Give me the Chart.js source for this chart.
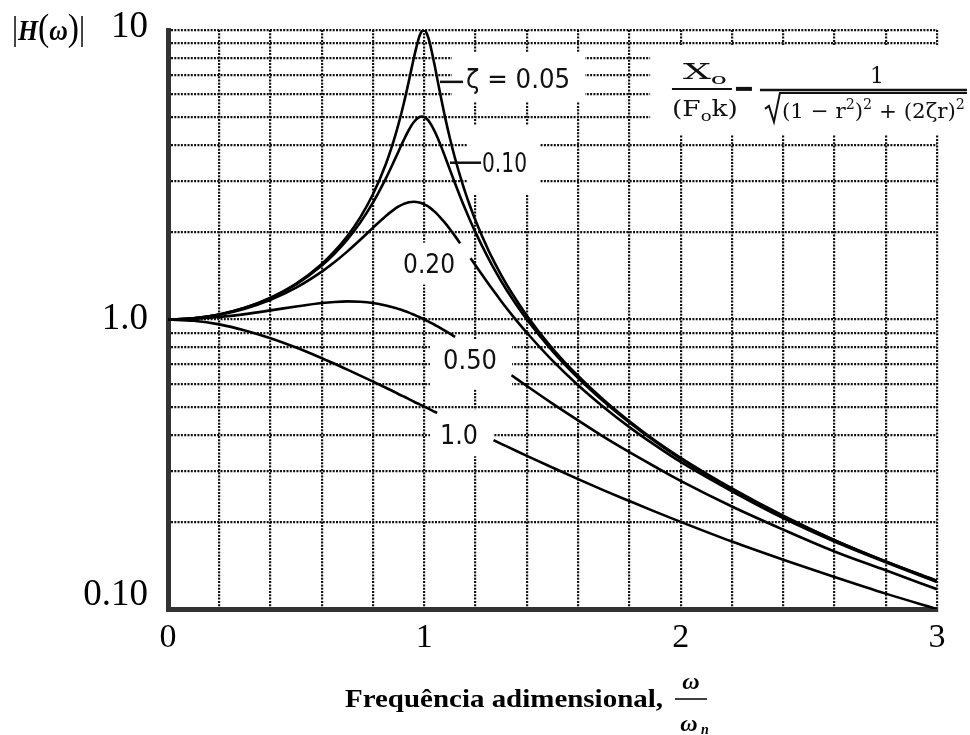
<!DOCTYPE html>
<html><head><meta charset="utf-8">
<script src="https://cdn.jsdelivr.net/npm/chart.js@4/dist/chart.umd.min.js"></script>
<style>html,body{margin:0;padding:0;background:#fff;}canvas{display:block;}</style>
</head><body>
<canvas id="c" width="970" height="735"></canvas>
<script>
// ---- data ----
const frequencyRatio = [0, 0.1, 0.2, 0.3, 0.4, 0.5, 0.6, 0.65, 0.7, 0.75, 0.8, 0.85, 0.88, 0.9, 0.92, 0.94, 0.96, 0.98, 0.99, 1.0, 1.01, 1.02, 1.04, 1.05, 1.06, 1.08, 1.1, 1.12, 1.14, 1.16, 1.18, 1.2, 1.25, 1.27, 1.3, 1.34, 1.4, 1.5, 1.6, 1.7, 1.8, 1.9, 2.0, 2.2, 2.4, 2.6, 2.8, 3.0];
const ampZeta005 = [1, 1.010, 1.041, 1.098, 1.189, 1.330, 1.556, 1.721, 1.943, 2.253, 2.712, 3.446, 4.130, 4.757, 5.585, 6.684, 8.068, 9.461, 9.903, 10, 9.711, 9.115, 7.565, 6.815, 6.141, 5.041, 4.218, 3.598, 3.120, 2.743, 2.441, 2.193, 1.735, 1.598, 1.424, 1.239, 1.031, 0.794, 0.638, 0.527, 0.445, 0.382, 0.333, 0.261, 0.210, 0.173, 0.146, 0.125];
const ampZeta010 = [1, 1.010, 1.041, 1.097, 1.185, 1.322, 1.536, 1.689, 1.891, 2.162, 2.538, 3.073, 3.495, 3.821, 4.172, 4.523, 4.822, 5.001, 5.025, 5, 4.926, 4.809, 4.476, 4.279, 4.075, 3.668, 3.288, 2.950, 2.656, 2.402, 2.184, 1.995, 1.625, 1.507, 1.356, 1.191, 1.0, 0.778, 0.628, 0.521, 0.441, 0.379, 0.330, 0.259, 0.209, 0.173, 0.146, 0.125];
const ampZeta020 = [1, 1.009, 1.038, 1.090, 1.170, 1.288, 1.463, 1.579, 1.719, 1.885, 2.076, 2.279, 2.392, 2.457, 2.508, 2.541, 2.552, 2.538, 2.522, 2.5, 2.472, 2.439, 2.359, 2.313, 2.264, 2.160, 2.051, 1.941, 1.833, null, 1.629, 1.536, 1.329, 1.256, 1.157, 1.042, 0.900, 0.721, 0.593, 0.498, 0.425, 0.368, 0.322, 0.255, 0.206, 0.171, 0.145, 0.124];
const ampZeta050 = [1, 1.005, 1.020, 1.044, 1.075, 1.109, 1.140, 1.150, 1.155, 1.152, 1.140, 1.118, 1.101, 1.087, 1.072, 1.056, 1.038, 1.020, 1.010, 1.0, 0.990, 0.980, 0.959, 0.948, 0.937, 0.915, 0.893, 0.871, null, null, null, null, null, null, null, 0.642, 0.589, 0.512, 0.448, 0.393, 0.348, 0.310, 0.277, 0.226, 0.188, 0.158, 0.136, 0.117];
const ampZeta100 = [1, 0.990, 0.962, 0.917, 0.862, 0.800, 0.735, 0.703, 0.671, 0.640, 0.610, 0.581, 0.564, 0.552, 0.542, 0.531, 0.520, 0.510, 0.505, 0.5, 0.495, 0.490, 0.480, 0.476, null, null, null, null, null, null, null, null, null, 0.383, 0.372, 0.358, 0.338, 0.308, 0.281, 0.257, 0.236, 0.217, 0.200, 0.171, 0.148, 0.129, 0.113, 0.100];
const seriesNames = ['ζ = 0.05', '0.10', '0.20', '0.50', '1.0'];

const yGridValues = [0.1, 0.2, 0.3, 0.4, 0.5, 0.6, 0.7, 0.8, 0.9, 1, 2, 3, 4, 5, 6, 7, 8, 9, 10];
const yTickValues = [0.1, 1, 10];
const yTickLabels = ['0.10', '1.0', '10'];
const xGridValues = [0, 0.2, 0.4, 0.6, 0.8, 1.0, 1.2, 1.4, 1.6, 1.8, 2.0, 2.2, 2.4, 2.6, 2.8, 3.0];
const xTickValues = [0, 1, 2, 3];
const xTickLabels = ['0', '1', '2', '3'];

// ---- annotation layout (data space) ----
const whiteBoxes = [
  {x0: 1.108, x1: 1.627, y0: 8.40, y1: 5.65},
  {x0: 1.170, x1: 1.451, y0: 4.70, y1: 2.70},
  {x0: 0.905, x1: 1.163, y0: 1.843, y1: 1.32},
  {x0: 1.022, x1: 1.342, y0: 0.853, y1: 0.574},
  {x0: 1.022, x1: 1.268, y0: 0.489, y1: 0.337},
  {x0: 1.881, x1: 3.13, y0: 8.88, y1: 4.34}
];
const labelSpots = [
  {x: 1.163, y: 6.31, w: 104},
  {x: 1.225, y: 3.24, w: 45},
  {x: 0.917, y: 1.45, w: 52},
  {x: 1.073, y: 0.672, w: 54},
  {x: 1.061, y: 0.371, w: 38}
];
const leaders = [
  {x0: 1.061, x1: 1.151, y: 6.62},
  {x0: 1.100, x1: 1.221, y: 3.48}
];
const formulaAnchor = {x: 1.966, y: 6.26};

function runsWidth(ctx, runs) {
  let w = 0;
  for (const r of runs) { ctx.font = r.font; w += ctx.measureText(r.t).width; }
  return w;
}
function drawRuns(ctx, runs, x, y, targetW) {
  const w = runsWidth(ctx, runs);
  const s = targetW ? targetW / w : 1;
  ctx.save();
  ctx.translate(x, y);
  ctx.scale(s, 1);
  let cx = 0;
  for (const r of runs) {
    ctx.font = r.font;
    ctx.fillText(r.t, cx, r.dy || 0);
    cx += ctx.measureText(r.t).width;
  }
  ctx.restore();
}
function hline(ctx, x0, x1, y, w) {
  ctx.beginPath(); ctx.lineWidth = w; ctx.moveTo(x0, y); ctx.lineTo(x1, y); ctx.stroke();
}

const annotPlugin = {
  id: 'annot',
  beforeDatasetsDraw(chart) {
    const {ctx, scales: {x, y}} = chart;
    const px = v => x.getPixelForValue(v), py = v => y.getPixelForValue(v);
    ctx.save();
    ctx.setLineDash([]);
    ctx.fillStyle = '#fff';
    for (const b of whiteBoxes) {
      const x0 = px(b.x0), x1 = px(b.x1), y0 = py(b.y0), y1 = py(b.y1);
      ctx.fillRect(x0, y0, x1 - x0, y1 - y0);
    }
    ctx.fillStyle = '#111';
    ctx.strokeStyle = '#111';
    ctx.textBaseline = 'alphabetic';
    seriesNames.forEach((name, i) => {
      const s = labelSpots[i];
      drawRuns(ctx, [{t: name, font: '26px "DejaVu Sans"'}], px(s.x), py(s.y), s.w);
    });
    for (const l of leaders) hline(ctx, px(l.x0), px(l.x1), py(l.y), 2.5);

    // formula
    const ax = px(formulaAnchor.x), ay = py(formulaAnchor.y);
    const f = '"DejaVu Serif"';
    drawRuns(ctx, [{t: 'X', font: '22px ' + f}, {t: 'o', font: '15px ' + f, dy: 5}], ax + 11, ay - 10, 44);
    hline(ctx, ax, ax + 60, ay, 2);
    drawRuns(ctx, [{t: '(F', font: '22px ' + f}, {t: 'o', font: '15px ' + f, dy: 5}, {t: 'k)', font: '22px ' + f}], ax, ay + 27, 66);
    hline(ctx, ax + 64, ax + 80, ay, 4);
    ctx.font = '22px ' + f;
    ctx.textAlign = 'center';
    ctx.fillText('1', ax + 205, ay - 6);
    ctx.textAlign = 'left';
    hline(ctx, ax + 88, ax + 295, ay + 1, 2.5);
    ctx.beginPath();
    ctx.lineWidth = 2;
    ctx.moveTo(ax + 93, ay + 20);
    ctx.lineTo(ax + 97, ay + 17);
    ctx.lineTo(ax + 102, ay + 33);
    ctx.lineTo(ax + 108, ay + 4);
    ctx.lineTo(ax + 295, ay + 4);
    ctx.stroke();
    drawRuns(ctx, [
      {t: '(1 − r', font: '21px ' + f},
      {t: '2', font: '14px ' + f, dy: -9},
      {t: ')', font: '21px ' + f},
      {t: '2', font: '14px ' + f, dy: -9},
      {t: ' + (2ζr)', font: '21px ' + f},
      {t: '2', font: '14px ' + f, dy: -9}
    ], ax + 110, ay + 29, 183);
    ctx.restore();
  },
  afterDraw(chart) {
    const {ctx, chartArea} = chart;
    ctx.save();
    ctx.setLineDash([]);
    ctx.fillStyle = '#000';
    ctx.strokeStyle = '#000';
    ctx.textBaseline = 'alphabetic';
    const s = '"Liberation Serif"';
    // y axis title |H(ω)|
    drawRuns(ctx, [
      {t: '|', font: '34px ' + s},
      {t: 'H', font: 'italic bold 29px ' + s},
      {t: '(', font: '38px ' + s},
      {t: 'ω', font: 'italic bold 29px ' + s},
      {t: ')', font: '38px ' + s},
      {t: '|', font: '34px ' + s}
    ], 12, chartArea.top + 10, 73);
    // x axis title
    const by = chartArea.bottom + 98;
    drawRuns(ctx, [{t: 'Frequência adimensional,', font: 'bold 25px ' + s}], 345, by, 318);
    ctx.textAlign = 'center';
    ctx.font = 'italic bold 24px ' + s;
    ctx.fillText('ω', 691, by - 18);
    hline(ctx, 675, 707, by - 8, 1.5);
    ctx.fillText('ω', 689, by + 24);
    ctx.font = 'italic bold 14px ' + s;
    ctx.fillText('n', 705, by + 27);
    ctx.restore();
  }
};

const curves = [ampZeta005, ampZeta010, ampZeta020, ampZeta050, ampZeta100];
const datasets = curves.map((arr, i) => ({
  label: seriesNames[i],
  data: frequencyRatio.map((r, k) => ({x: r, y: arr[k]})),
  borderColor: '#000',
  borderWidth: 2.6,
  pointRadius: 0,
  fill: false,
  spanGaps: false,
  cubicInterpolationMode: 'monotone'
}));

const near = (a, b) => Math.abs(a - b) < 1e-9;

new Chart(document.getElementById('c'), {
  type: 'line',
  data: {datasets},
  plugins: [annotPlugin],
  options: {
    responsive: false,
    animation: false,
    devicePixelRatio: 1,
    events: [],
    layout: {padding: {top: 30, right: 33, bottom: 0, left: 0}},
    plugins: {legend: {display: false}, tooltip: {enabled: false}},
    scales: {
      x: {
        type: 'linear', min: 0, max: 3,
        afterBuildTicks: s => { s.ticks = xGridValues.map(v => ({value: v})); },
        afterFit: s => { s.height = 126; },
        grid: {color: '#111', lineWidth: 2.2, drawTicks: false},
        border: {display: true, color: '#333', width: 5, dash: [2, 1.3]},
        ticks: {
          padding: 9, maxRotation: 0, autoSkip: false, color: '#000',
          font: {family: 'Liberation Serif', size: 34},
          callback: v => { const i = xTickValues.findIndex(t => near(t, v)); return i >= 0 ? xTickLabels[i] : ''; }
        }
      },
      y: {
        type: 'logarithmic', min: 0.1, max: 10,
        afterBuildTicks: s => { s.ticks = yGridValues.map(v => ({value: v})); },
        afterFit: s => { s.width = 168; },
        grid: {color: '#111', lineWidth: 2.2, drawTicks: false},
        border: {display: true, color: '#333', width: 5, dash: [2, 1.3]},
        ticks: {
          padding: 20, color: '#000', autoSkip: false,
          font: ctx => {
            const v = ctx.tick ? ctx.tick.value : 1;
            let lh = 1.2;
            if (near(v, 0.1)) lh = 0.76;
            else if (near(v, 10)) lh = 0.16;
            return {family: 'Liberation Serif', size: 37, lineHeight: lh};
          },
          callback: v => {
            const i = yTickValues.findIndex(t => near(t, v));
            if (i < 0) return '';
            if (near(v, 1)) return yTickLabels[i];
            return [yTickLabels[i], ''];
          }
        }
      }
    }
  }
});
</script>
</body></html>
